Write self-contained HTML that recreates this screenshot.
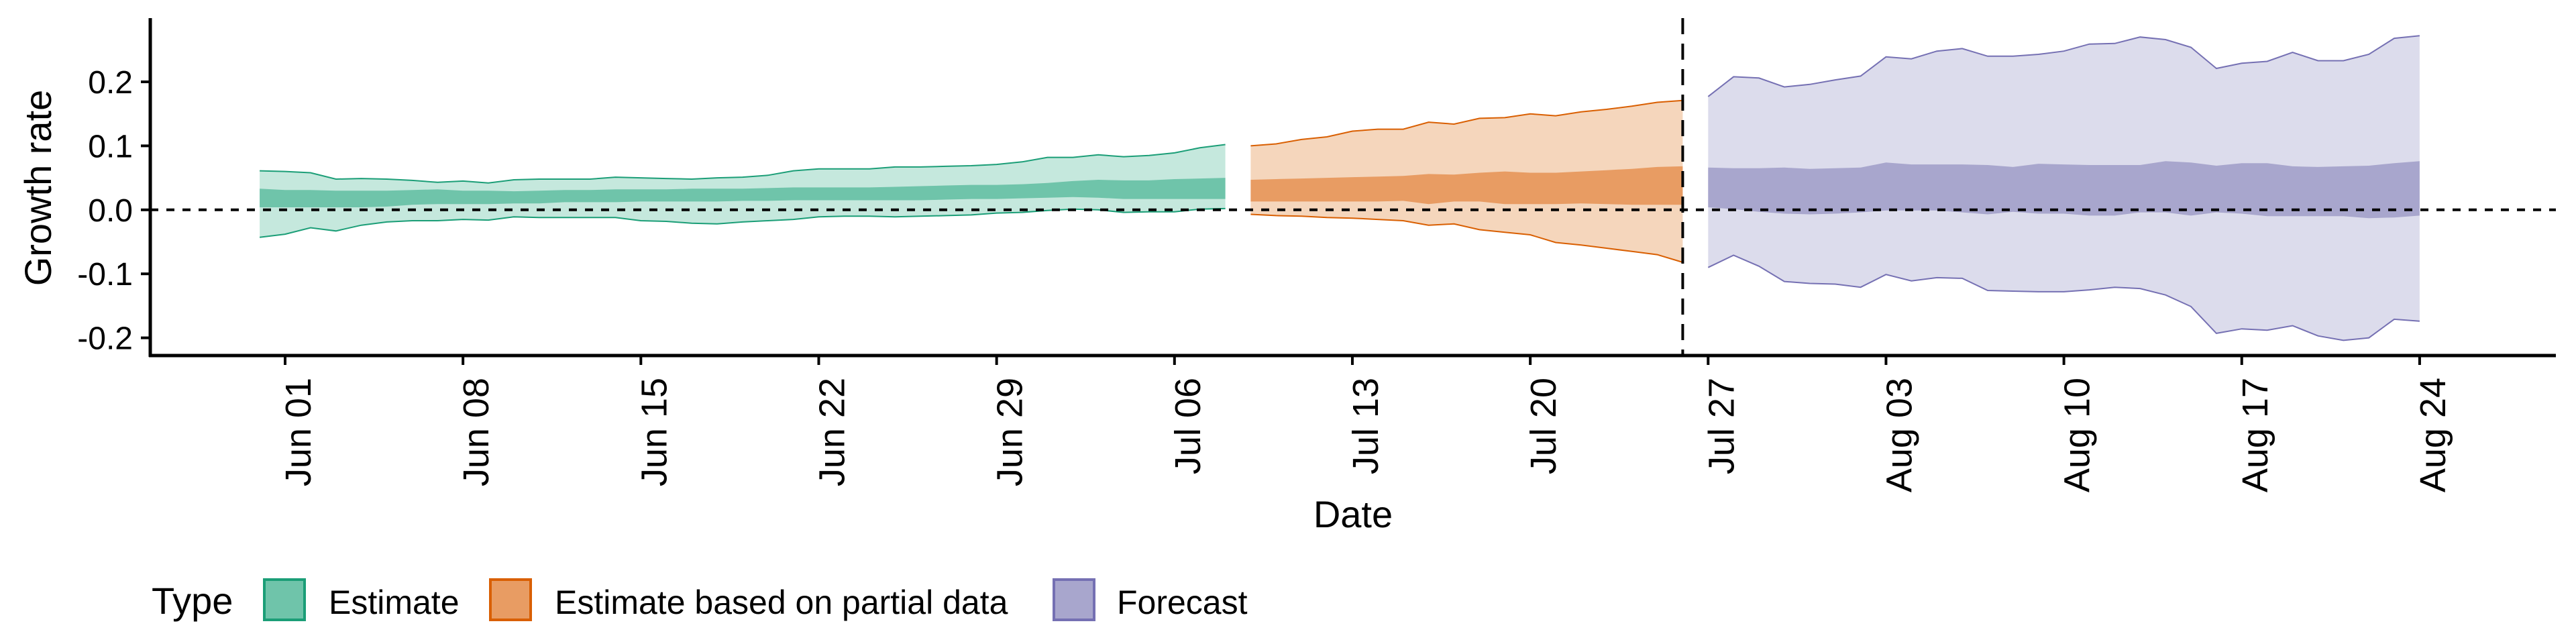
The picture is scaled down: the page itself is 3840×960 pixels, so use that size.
<!DOCTYPE html>
<html><head><meta charset="utf-8"><style>
html,body{margin:0;padding:0;background:#fff;}
svg{display:block;font-family:"Liberation Sans",Arial,sans-serif;}
</style></head><body>
<svg id="chart" width="3840" height="960" viewBox="0 0 3840 960" xmlns="http://www.w3.org/2000/svg">
<g id="bands"></g>
<g id="axes"></g>
<text x="0" y="0" transform="translate(76,280) rotate(-90)" text-anchor="middle" font-size="56">Growth rate</text>
<text x="2017" y="786" text-anchor="middle" font-size="56">Date</text>
<g>
<text x="226" y="915" font-size="56">Type</text>
<rect x="394" y="864" width="60" height="60" fill="#6fc4aa" stroke="#1b9e77" stroke-width="4"/>
<text x="490" y="915" font-size="50">Estimate</text>
<rect x="731" y="864" width="60" height="60" fill="#e89c63" stroke="#d95f02" stroke-width="4"/>
<text x="827" y="915" font-size="50">Estimate based on partial data</text>
<rect x="1571" y="864" width="60" height="60" fill="#a8a6cd" stroke="#7570b3" stroke-width="4"/>
<text x="1665" y="915" font-size="50">Forecast</text>
</g>
</svg>
<script>
// day offsets relative to Jun 01
const estStart = -1, partStart = 38, fcStart = 56;
const estOuterHi = [.061,.060,.058,.048,.049,.048,.046,.043,.045,.042,.047,.048,.048,.048,.051,.050,.049,.048,.050,.051,.054,.061,.064,.064,.064,.067,.067,.068,.069,.071,.075,.082,.082,.086,.083,.085,.089,.097,.102];
const estInnerHi = [.033,.031,.031,.030,.030,.030,.031,.032,.030,.030,.029,.030,.031,.031,.032,.032,.032,.033,.033,.033,.034,.035,.035,.035,.035,.036,.037,.038,.039,.039,.040,.042,.045,.047,.046,.046,.048,.049,.050];
const estInnerLo = [.004,.004,.004,.004,.004,.005,.008,.009,.009,.009,.010,.010,.012,.012,.012,.013,.013,.013,.013,.014,.014,.015,.015,.015,.015,.015,.015,.016,.017,.017,.018,.019,.020,.019,.017,.017,.017,.017,.017];
const estOuterLo = [-.043,-.038,-.028,-.033,-.024,-.019,-.017,-.017,-.015,-.016,-.011,-.012,-.012,-.012,-.012,-.017,-.018,-.021,-.022,-.019,-.017,-.015,-.011,-.010,-.010,-.011,-.010,-.009,-.008,-.005,-.004,-.001,.001,0,-.004,-.003,-.003,.001,.002];
const partOuterHi = [.100,.103,.110,.114,.123,.126,.126,.137,.134,.143,.144,.150,.147,.153,.157,.162,.168,.171];
const partInnerHi = [.047,.048,.049,.050,.051,.052,.053,.056,.055,.058,.060,.058,.058,.060,.062,.064,.067,.068];
const partInnerLo = [.013,.013,.013,.013,.013,.013,.014,.009,.013,.013,.009,.009,.009,.010,.009,.008,.008,.008];
const partOuterLo = [-.007,-.009,-.010,-.012,-.013,-.015,-.017,-.024,-.022,-.031,-.035,-.039,-.051,-.055,-.060,-.065,-.070,-.082];
const fcOuterHi = [.177,.208,.206,.192,.196,.203,.209,.239,.236,.248,.252,.240,.240,.243,.248,.259,.260,.270,.266,.254,.221,.229,.232,.246,.233,.233,.243,.268,.272];
const fcInnerHi = [.066,.065,.065,.066,.064,.065,.066,.074,.071,.071,.071,.070,.067,.072,.071,.070,.070,.070,.076,.074,.069,.073,.073,.068,.067,.068,.069,.073,.076];
const fcInnerLo = [.004,.001,-.003,-.006,-.007,-.006,-.004,-.001,-.001,-.001,-.004,-.007,-.003,-.006,-.006,-.009,-.009,-.004,-.004,-.009,-.004,-.006,-.010,-.010,-.010,-.010,-.013,-.012,-.009];
const fcOuterLo = [-.090,-.071,-.088,-.112,-.115,-.116,-.121,-.101,-.111,-.106,-.107,-.126,-.127,-.128,-.128,-.125,-.121,-.123,-.133,-.151,-.193,-.186,-.188,-.181,-.197,-.204,-.200,-.171,-.174];
const xTickDays = [0,7,14,21,28,35,42,49,56,63,70,77,84];
const xTickLabels = ["Jun 01","Jun 08","Jun 15","Jun 22","Jun 29","Jul 06","Jul 13","Jul 20","Jul 27","Aug 03","Aug 10","Aug 17","Aug 24"];
const yTicks = [0.2,0.1,0.0,-0.1,-0.2];
const yTickLabels = ["0.2","0.1","0.0","-0.1","-0.2"];
const cutoffDay = 55;

const NS = "http://www.w3.org/2000/svg";
const X0 = 224, X1 = 3810, Y0 = 27, Y1 = 530;
function xs(d){ return 425 + d * 37.88; }
function ys(v){ return 312.8 - v * 954; }
function mk(tag, attrs, parent){ const e = document.createElementNS(NS, tag); for (const k in attrs) e.setAttribute(k, attrs[k]); parent.appendChild(e); return e; }
const bands = document.getElementById('bands');
const axes = document.getElementById('axes');

function area(start, hi, lo){
  let p = hi.map((v,i)=>xs(start+i).toFixed(1)+','+ys(v).toFixed(1));
  let q = lo.map((v,i)=>xs(start+i).toFixed(1)+','+ys(v).toFixed(1)).reverse();
  return 'M' + p.concat(q).join(' L') + ' Z';
}
function line(start, arr){ return 'M' + arr.map((v,i)=>xs(start+i).toFixed(1)+','+ys(v).toFixed(1)).join(' L'); }

const groups = [
  {name:'estimate', start:estStart, oh:estOuterHi, ih:estInnerHi, il:estInnerLo, ol:estOuterLo, light:'#c5e8dd', dark:'#6fc4aa', edge:'#1b9e77'},
  {name:'partial', start:partStart, oh:partOuterHi, ih:partInnerHi, il:partInnerLo, ol:partOuterLo, light:'#f5d6bc', dark:'#e89c63', edge:'#d95f02'},
  {name:'forecast', start:fcStart, oh:fcOuterHi, ih:fcInnerHi, il:fcInnerLo, ol:fcOuterLo, light:'#dcdcec', dark:'#a8a6cd', edge:'#7570b3'}
];
groups.forEach(g=>{
  const o = mk('path', {d:area(g.start,g.oh,g.ol), fill:g.light}, bands);
  
  
  const i = mk('path', {d:area(g.start,g.ih,g.il), fill:g.dark}, bands);
  
  
  const u = mk('path', {d:line(g.start,g.oh), fill:'none', stroke:g.edge, 'stroke-width':2}, bands);
  
  
  const l = mk('path', {d:line(g.start,g.ol), fill:'none', stroke:g.edge, 'stroke-width':2}, bands);
  
  
});

// zero line & cutoff
const z = mk('line', {x1:X0, x2:X1, y1:ys(0), y2:ys(0), stroke:'#000', 'stroke-width':4, 'stroke-dasharray':'12 12'}, axes);


const c = mk('line', {x1:xs(cutoffDay), x2:xs(cutoffDay), y1:Y0, y2:Y1, stroke:'#000', 'stroke-width':4, 'stroke-dasharray':'24 14'}, axes);



// axes
const ya = mk('line', {x1:X0, x2:X0, y1:Y0, y2:Y1+2, stroke:'#000', 'stroke-width':5}, axes);


const xa = mk('line', {x1:X0-2, x2:X1, y1:Y1, y2:Y1, stroke:'#000', 'stroke-width':5}, axes);



yTicks.forEach((v,i)=>{
  const t = mk('line', {x1:X0-14, x2:X0, y1:ys(v), y2:ys(v), stroke:'#000', 'stroke-width':4}, axes);
  
  
  const tx = mk('text', {x:X0-26, y:ys(v)+17, 'text-anchor':'end', 'font-size':48}, axes);
  tx.textContent = yTickLabels[i];
  
  
});
xTickDays.forEach((d,i)=>{
  const t = mk('line', {x1:xs(d), x2:xs(d), y1:Y1, y2:Y1+14, stroke:'#000', 'stroke-width':4}, axes);
  
  
  const tx = mk('text', {x:0, y:0, transform:'translate('+(xs(d)+20)+',563) rotate(-90)', 'text-anchor':'end', 'dominant-baseline':'central', 'font-size':54}, axes);
  tx.textContent = xTickLabels[i];
  
  
});
</script>
</body></html>
